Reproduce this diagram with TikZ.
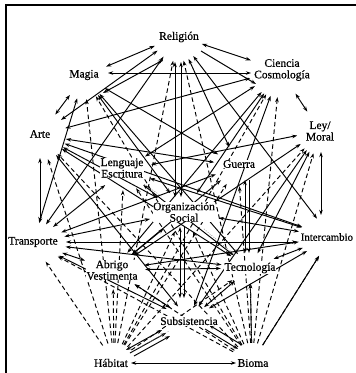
\documentclass[tikz,border=0pt]{standalone}
\usepackage{fontspec}
\setmainfont{Liberation Serif}
\newfontfamily\lblfont[FakeBold=0.6]{Liberation Serif}
\usetikzlibrary{arrows.meta,shapes.geometric}
\begin{document}
\begin{tikzpicture}[x=1pt,y=-1pt,
  >={Stealth[length=5.2pt,width=3.6pt]},
  lbl/.style={font=\lblfont\fontsize{11.5}{11.5}\selectfont, align=center, inner sep=0.6pt, fill=white},
  port/.style={ellipse, draw=none, inner sep=0pt},
  sl/.style={line width=0.95pt, <->},
  ol/.style={line width=0.95pt, ->},
  dl/.style={line width=0.95pt, dash pattern=on 4.5pt off 3pt, ->},
  dt/.style={line width=0.4pt, dash pattern=on 1pt off 1.5pt, black!60}]
\clip (0,0) rectangle (356,373);
\fill[white] (0,0) rectangle (356,373);
\draw[line width=1.3pt] (6,373) -- (6,5) -- (356,5);
% ports
\node[port, minimum width=50pt, minimum height=50pt] (relP) at (178,36) {};
\node[port, minimum width=48pt, minimum height=46pt] (magP) at (84,76) {};
\node[port, minimum width=62pt, minimum height=54pt] (cieP) at (280,70) {};
\node[port, minimum width=52pt, minimum height=50pt] (arteP) at (40,135) {};
\node[port, minimum width=46pt, minimum height=46pt] (leyP) at (320,131) {};
\node[port, minimum width=56pt, minimum height=40pt] (lenP) at (124,170) {};
\node[port, minimum width=48pt, minimum height=40pt] (gueP) at (238,166) {};
\node[port, minimum width=72pt, minimum height=40pt] (orgP) at (184,212) {};
\node[port, minimum width=66pt, minimum height=40pt] (traP) at (33,243) {};
\node[port, minimum width=66pt, minimum height=40pt] (intP) at (331,237) {};
\node[port, minimum width=64pt, minimum height=38pt] (abrP) at (113,270) {};
\node[port, minimum width=58pt, minimum height=30pt] (tecP) at (250,268) {};
\node[port, minimum width=70pt, minimum height=28pt] (subP) at (189,320) {};
\node[port, minimum width=44pt, minimum height=38pt] (habP) at (114,362) {};
\node[port, minimum width=44pt, minimum height=38pt] (bioP) at (252,362) {};
% fixed end points
\coordinate (magR) at (108,73); \coordinate (cieL) at (251,73);
\coordinate (arteB) at (40,158); \coordinate (traT) at (40,222);
\coordinate (leyB) at (321,152); \coordinate (intT) at (321,215);
\coordinate (habR) at (131,363); \coordinate (bioL) at (236,363);
\coordinate (relA) at (175,62); \coordinate (orgA) at (175,197);
\coordinate (relB) at (181,62); \coordinate (orgB) at (181,197);
\coordinate (orgC) at (180,227); \coordinate (subC) at (180,298);
\coordinate (orgD) at (184,227); \coordinate (subD) at (184,298);
\coordinate (gueA) at (245,180); \coordinate (tecA) at (245,253);
\coordinate (gueB) at (249,180); \coordinate (tecB) at (249,253);
\coordinate (traR) at (66,242); \coordinate (intL) at (297,242);
\coordinate (magQ) at (103,93); \coordinate (relQ) at (163,60);
\coordinate (relS) at (201,51); \coordinate (cieS) at (256,84);
\coordinate (habA) at (126,350); \coordinate (subA) at (162,330);
\coordinate (habB) at (130,353); \coordinate (subB) at (166,333);
\coordinate (habC) at (134,356); \coordinate (subE) at (170,336);
\coordinate (bioA) at (238,349); \coordinate (subF) at (205,329);
\coordinate (bioB) at (242,345); \coordinate (subG) at (209,325);
% outer ring
\draw[sl] (relP) -- (magP);
\draw[sl] (relP) -- (cieP);
\draw[sl] (magR) -- (cieL);
\draw[sl] (magP) -- (arteP);
\draw[sl] (cieP) -- (leyP);
\draw[sl] (arteB) -- (traT);
\draw[sl] (leyB) -- (intT);
\draw[sl] (habR) -- (bioL);
\draw[sl] (traR) -- (intL);
\draw[sl] (magQ) -- (relQ);
\draw[ol] (relS) -- (cieS);
% vertical pairs
\draw[sl] (relA) -- (orgA); \draw[sl] (relB) -- (orgB);
\draw[sl] (orgC) -- (subC); \draw[ol] (orgD) -- (subD);
\draw[sl] (gueA) -- (tecA); \draw[ol] (gueB) -- (tecB);
% bottom parallels
\draw[sl] (habA) -- (subA); \draw[ol] (habB) -- (subB); \draw[ol] (habC) -- (subE);
\draw[ol] (subF) -- (bioA); \draw[ol] (bioB) -- (subG);
% solid cross links
\foreach \a/\b in {relP/arteP, relP/traP, relP/gueP, relP/intP,
  magP/gueP, magP/orgP, magP/traP, magP/tecP,
  cieP/arteP, cieP/orgP, cieP/lenP, cieP/abrP, cieP/subP,
  arteP/gueP, arteP/intP, arteP/orgP, arteP/tecP, arteP/subP,
  leyP/lenP, leyP/abrP, leyP/tecP, leyP/subP,
  lenP/intP, lenP/tecP, lenP/traP,
  gueP/traP, gueP/abrP,
  traP/orgP, traP/tecP, traP/abrP, traP/subP,
  orgP/intP, orgP/abrP,
  abrP/tecP, abrP/subP, abrP/intP,
  tecP/intP, tecP/subP, subP/intP}
  \draw[sl] (\a) -- (\b);
\draw[ol] (bioP) -- (tecP);
\draw[ol] (bioP) -- (intP);
% dashed from Habitat and Bioma
\foreach \b in {traP, arteP, magP, relP, lenP, abrP, orgP, gueP, tecP, leyP, cieP}
  \draw[dl] (habP) -- (\b);
\foreach \b in {traP, arteP, magP, relP, lenP, abrP, orgP, gueP, tecP, leyP, cieP, intP}
  \draw[dl] (bioP) -- (\b);
% faint dotted links
\draw[dt] (lenP) -- (orgP);
\draw[dt] (gueP) -- (orgP);
\draw[dt] (orgP) -- (tecP);
\draw[dt] (tecP) -- (bioP);
\draw[dt] (subP) -- (habP);
% labels
\node[lbl] (relT) at (179,37) {Religión};
\node[lbl] (magT) at (84,75) {Magia};
\node[lbl] (cieT) at (282,70) {Ciencia\\Cosmología};
\node[lbl] (arteT) at (40,134) {Arte};
\node[lbl] (leyT) at (320,131) {Ley/\\Moral};
\node[lbl] (lenT) at (122,168) {Lenguaje\\Escritura};
\node[lbl] (gueT) at (239,164) {Guerra};
\node[lbl] (orgT) at (184,212) {Organización\\Social};
\node[lbl] (traT2) at (33,242) {Transporte};
\node[lbl, anchor=west, font=\lblfont\fontsize{10.8}{11}\selectfont] (intT2) at (300,237) {Intercambio};
\node[lbl] (abrT) at (112,270) {Abrigo\\Vestimenta};
\node[lbl] (tecT) at (250,268) {Tecnología};
\node[lbl] (subT) at (189,321) {Subsistencia};
\node[lbl] (habT) at (111,363) {Hábitat};
\node[lbl] (bioT) at (253,363) {Bioma};
\end{tikzpicture}
\end{document}
